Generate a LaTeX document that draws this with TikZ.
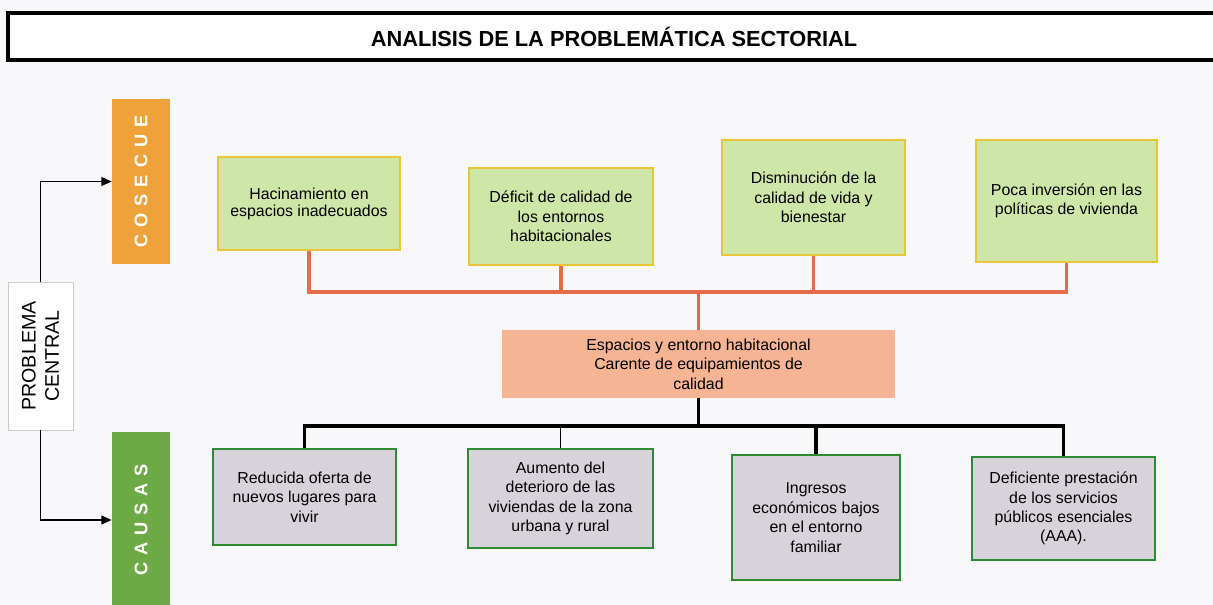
\documentclass[tikz,border=0pt]{standalone}
\usepackage{fontspec}
\setmainfont{Liberation Sans}
\usepackage{tikz}
\usetikzlibrary{arrows.meta,positioning}
\definecolor{paper}{HTML}{F8F8FA}
\definecolor{orbar}{HTML}{EFA23A}
\definecolor{grbar}{HTML}{6DAA45}
\definecolor{consfill}{HTML}{CFE6A9}
\definecolor{consedge}{HTML}{E9C53A}
\definecolor{probfill}{HTML}{F5B595}
\definecolor{orange}{HTML}{E46C4A}
\definecolor{causfill}{HTML}{D8D3DA}
\definecolor{causedge}{HTML}{2F8A34}
\newcommand{\lgap}{\hspace{0.38em}}
\tikzset{
  txt/.style={align=center,inner sep=2pt,font=\fontsize{11.3}{13.8}\selectfont},
  titlebox/.style={draw=black,line width=3pt,fill=white,minimum width=30.3cm,minimum height=1.175cm,font=\fontsize{15.5}{17}\selectfont\bfseries},
  bar/.style={rotate=90,minimum height=1.45cm,inner sep=0pt,text=white,font=\fontsize{13}{15}\selectfont\bfseries},
  pcbox/.style={rotate=90,draw=black!20,fill=white,align=center,minimum width=3.7cm,minimum height=1.625cm,font=\fontsize{14}{16.5}\selectfont},
  consbox/.style={txt,draw=consedge,fill=consfill,line width=1.4pt},
  causbox/.style={txt,draw=causedge,fill=causfill,line width=1.4pt},
  probbox/.style={txt,fill=probfill},
  arr/.style={-{Triangle[length=2.6mm,width=2.2mm]},line width=1.2pt,color=black},
  orln/.style={line width=2.8pt,color=orange},
  blkln/.style={line width=2.8pt,color=black},
  thinln/.style={line width=1.1pt,color=black},
}
\begin{document}
\begin{tikzpicture}[x=0.025cm,y=-0.025cm]
\useasboundingbox (0,0) rectangle (1213,605);
\clip (0,0) rectangle (1213,605);
\fill[paper] (0,0) rectangle (1213,605);
\node[titlebox] (title) at (614,36.5) {ANALISIS DE LA PROBLEMÁTICA SECTORIAL};
\node[bar,fill=orbar,minimum width=4.125cm] (barcons) at (141,181.5) {C\lgap O\lgap S\lgap E\lgap C\lgap U\lgap E};
\node[bar,fill=grbar,minimum width=4.4cm] (barcaus) at (141,520) {C\lgap A\lgap U\lgap S\lgap A\lgap S};
\node[pcbox] (pc) at (40.5,356) {PROBLEMA\\CENTRAL};
\node[consbox,minimum width=4.55cm,minimum height=2.325cm,font=\fontsize{11.3}{12}\selectfont] (cons1) at (309,203.5) {Hacinamiento en\\espacios inadecuados};
\node[consbox,minimum width=4.6cm,minimum height=2.425cm] (cons2) at (561,216.5) {Déficit de calidad de\\los entornos\\habitacionales};
\node[consbox,minimum width=4.575cm,minimum height=2.875cm] (cons3) at (813.5,197.5) {Disminución de la\\calidad de vida y\\bienestar};
\node[consbox,minimum width=4.525cm,minimum height=3.05cm] (cons4) at (1066.5,201) {Poca inversión en las\\políticas de vivienda};
\node[probbox,minimum width=9.825cm,minimum height=1.7cm] (prob) at (698.5,364) {Espacios y entorno habitacional\\Carente de equipamientos de\\calidad};
\node[causbox,minimum width=4.575cm,minimum height=2.4cm] (caus1) at (304.5,497) {Reducida oferta de\\nuevos lugares para\\vivir};
\node[causbox,minimum width=4.625cm,minimum height=2.475cm] (caus2) at (560.5,498.5) {Aumento del\\deterioro de las\\viviendas de la zona\\urbana y rural};
\node[causbox,minimum width=4.2cm,minimum height=3.125cm] (caus3) at (816,517.5) {Ingresos\\económicos bajos\\en el entorno\\familiar};
\node[causbox,minimum width=4.575cm,minimum height=2.575cm] (caus4) at (1063.5,508.5) {Deficiente prestación\\de los servicios\\públicos esenciales\\(AAA).};
\path (prob.north) ++(0,-38) coordinate (jt);
\path (prob.south) ++(0,28) coordinate (jb);
\draw[arr] (pc.east) |- (barcons.north);\draw[arr] (pc.west) |- (barcaus.north);
\draw[orln] (cons1.south) |- (jt) -| (cons4.south);\draw[orln] (cons2.south) -- (cons2.south |- jt);\draw[orln] (cons3.south) -- (cons3.south |- jt);\draw[orln] (jt) -- (prob.north);
\draw[blkln] (caus1.north) |- (jb) -| (caus4.north);\draw[blkln] (prob.south) -- (jb);\draw[blkln] (caus3.north) -- (caus3.north |- jb);
\draw[thinln] (caus2.north) -- (caus2.north |- jb);
\end{tikzpicture}
\end{document}
